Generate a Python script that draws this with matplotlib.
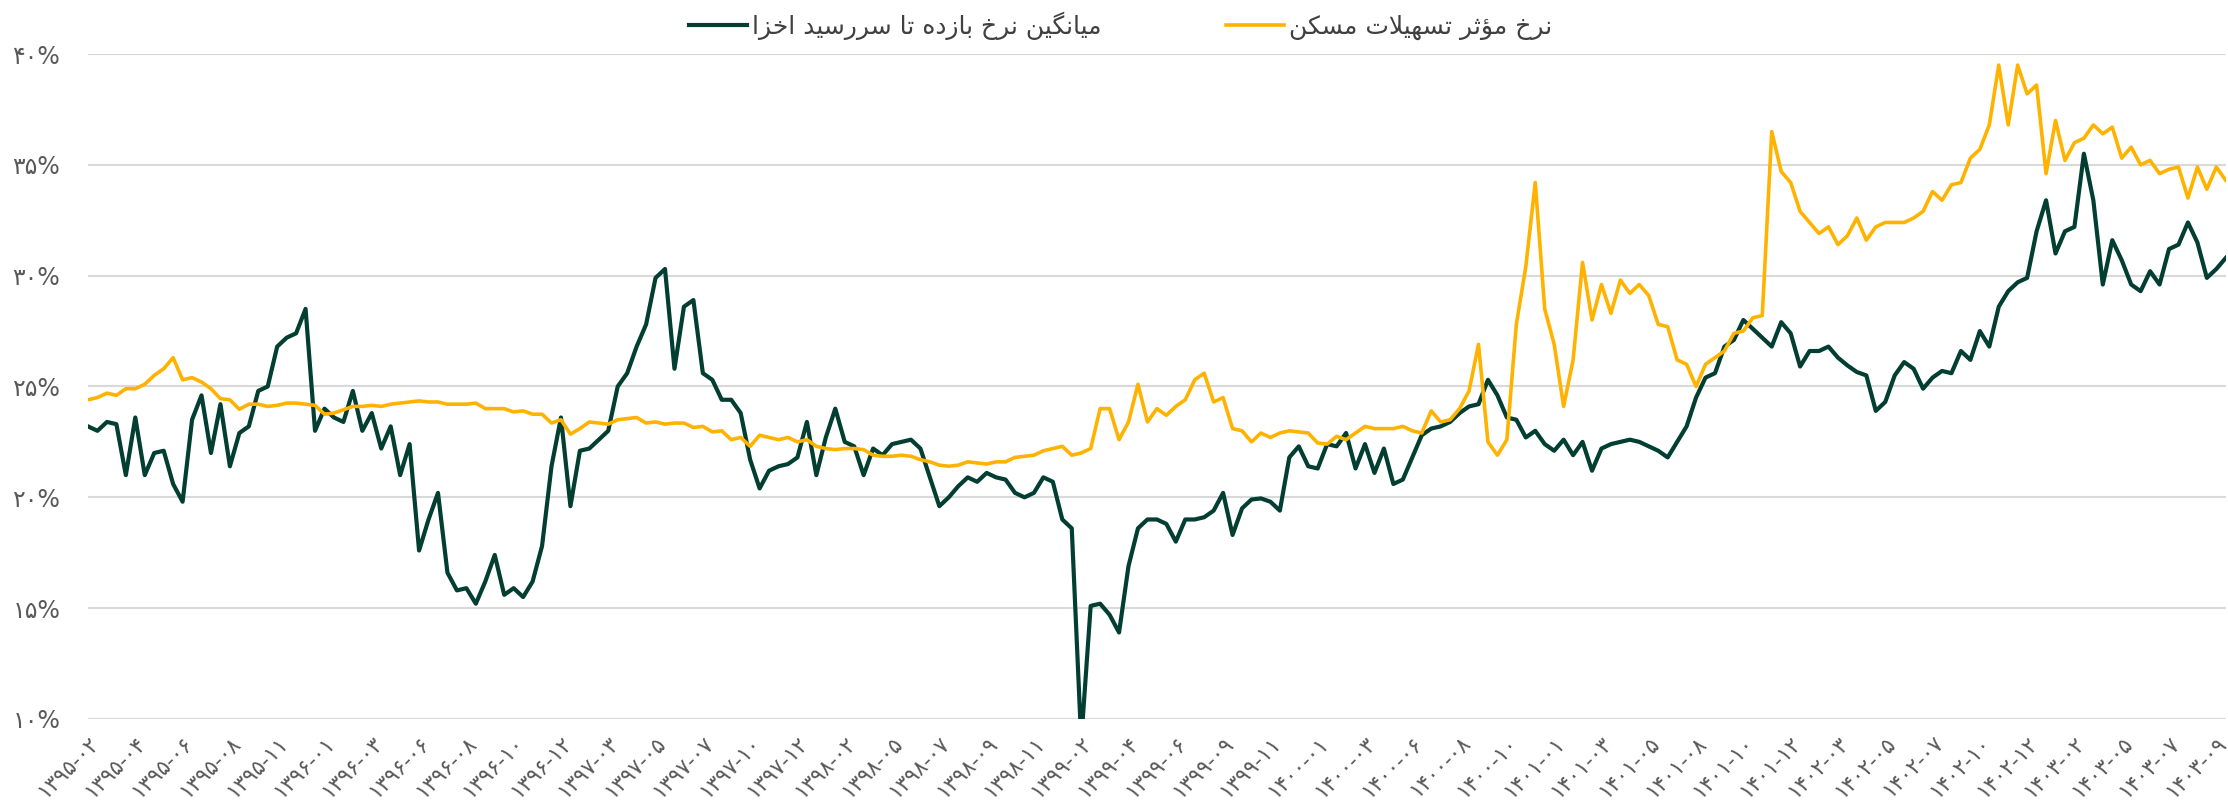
import numpy as np
import matplotlib
matplotlib.use('Agg')
import matplotlib.pyplot as plt

# میانگین نرخ بازده تا سررسید اخزا (درصد)
akhza = [23.2, 23.0, 23.4, 23.3, 21.0, 23.6, 21.0, 22.0, 22.1, 20.6, 19.8, 23.5, 24.6, 22.0, 24.2, 21.4, 22.9, 23.2, 24.8, 25.0,
         26.8, 27.2, 27.4, 28.5, 23.0, 24.0, 23.6, 23.4, 24.8, 23.0, 23.8, 22.2, 23.2, 21.0, 22.4, 17.6, 19.0, 20.2, 16.6,
         15.8, 15.9, 15.2, 16.2, 17.4, 15.6, 15.9, 15.5, 16.2, 17.8, 21.4, 23.6, 19.6, 22.1, 22.2, 22.6, 23.0, 25.0, 25.6,
         26.8, 27.8, 29.9, 30.3, 25.8, 28.6, 28.9, 25.6, 25.3, 24.4, 24.4, 23.8, 21.7, 20.4, 21.2, 21.4, 21.5, 21.8, 23.4,
         21.0, 22.7, 24.0, 22.5, 22.3, 21.0, 22.2, 21.9, 22.4, 22.5, 22.6, 22.2, 20.9, 19.6, 20.0, 20.5, 20.9, 20.7, 21.1,
         20.9, 20.8, 20.2, 20.0, 20.2, 20.9, 20.7, 19.0, 18.6, 9.0, 15.1, 15.2, 14.7, 13.9, 16.9, 18.6, 19.0, 19.0, 18.8,
         18.0, 19.0, 19.0, 19.1, 19.4, 20.2, 18.3, 19.5, 19.9, 19.95, 19.8, 19.4, 21.8, 22.3, 21.4, 21.3, 22.4, 22.3, 22.9,
         21.3, 22.4, 21.1, 22.2, 20.6, 20.8, 21.8, 22.8, 23.1, 23.2, 23.4, 23.8, 24.1, 24.2, 25.3, 24.6, 23.6, 23.5, 22.7,
         23.0, 22.4, 22.1, 22.6, 21.9, 22.5, 21.2, 22.2, 22.4, 22.5, 22.6, 22.5, 22.3, 22.1, 21.8, 22.5, 23.2, 24.5, 25.4,
         25.6, 26.8, 27.1, 28.0, 27.6, 27.2, 26.8, 27.9, 27.4, 25.9, 26.6, 26.6, 26.8, 26.3, 25.95, 25.65, 25.5, 23.9, 24.3,
         25.5, 26.1, 25.8, 24.9, 25.4, 25.7, 25.6, 26.6, 26.2, 27.5, 26.8, 28.6, 29.3, 29.7, 29.9, 32.0, 33.4, 31.0, 32.0,
         32.2, 35.5, 33.4, 29.6, 31.6, 30.7, 29.6, 29.3, 30.2, 29.6, 31.2, 31.4, 32.4, 31.5, 29.9, 30.3, 30.8]

# نرخ مؤثر تسهیلات مسکن (درصد)
maskan = [24.4, 24.5, 24.7, 24.6, 24.9, 24.9, 25.1, 25.5, 25.8, 26.3, 25.3, 25.4, 25.2, 24.9, 24.45, 24.4, 23.97, 24.2, 24.2,
          24.1, 24.15, 24.25, 24.25, 24.2, 24.15, 23.75, 23.8, 23.95, 24.1, 24.1, 24.15, 24.1, 24.2, 24.25, 24.3, 24.35, 24.3,
          24.3, 24.2,
          24.2, 24.2, 24.25, 24.0, 24.0, 24.0, 23.85, 23.9, 23.75, 23.75, 23.35, 23.5, 22.85, 23.1, 23.4, 23.35, 23.3, 23.5,
          23.55, 23.6, 23.35, 23.4, 23.3, 23.35, 23.35, 23.15, 23.2, 22.95, 23.0, 22.6, 22.7, 22.3, 22.8, 22.7, 22.6, 22.7,
          22.5, 22.6,
          22.3, 22.2, 22.15, 22.2, 22.2, 22.15, 21.9, 21.85, 21.85, 21.9, 21.85, 21.7, 21.6, 21.45, 21.4, 21.45, 21.6, 21.55,
          21.5, 21.6, 21.6, 21.8, 21.85, 21.9, 22.1, 22.2, 22.3, 21.9, 22.0, 22.2, 24.0, 24.0, 22.6, 23.4, 25.1, 23.4, 24.0,
          23.7,
          24.1, 24.4, 25.3, 25.6, 24.3, 24.5, 23.1, 23.0, 22.5, 22.9, 22.7, 22.9, 23.0, 22.95, 22.9, 22.45, 22.4, 22.75, 22.6,
          22.9, 23.2, 23.1, 23.1, 23.1, 23.2, 23.0, 22.9, 23.9, 23.4, 23.5, 24.0, 24.8, 26.9, 22.5, 21.9, 22.6, 27.8, 30.4,
          34.2, 28.5, 26.9, 24.1, 26.2, 30.6, 28.0, 29.6, 28.3, 29.8, 29.2, 29.6, 29.1, 27.8, 27.7, 26.2, 26.0, 25.0, 26.0,
          26.3, 26.6, 27.4, 27.5, 28.1, 28.2, 36.5, 34.7, 34.2, 32.9, 32.4, 31.9, 32.2, 31.4, 31.8, 32.6, 31.6, 32.2, 32.4,
          32.4, 32.4, 32.6, 32.9, 33.8, 33.4, 34.1, 34.2, 35.3, 35.7, 36.8, 39.5, 36.8, 39.5, 38.2, 38.6, 34.6, 37.0, 35.2,
          36.0, 36.2, 36.8, 36.4, 36.7, 35.3, 35.8, 35.0, 35.2, 34.6, 34.8, 34.9, 33.5, 34.9, 33.9, 34.9, 34.3]

# برچسب های محور افقی (هر ۵ نقطه یک برچسب)
tarikh = ['۱۳۹۵-۰۲', '۱۳۹۵-۰۴', '۱۳۹۵-۰۶', '۱۳۹۵-۰۸', '۱۳۹۵-۱۱',
          '۱۳۹۶-۰۱', '۱۳۹۶-۰۳', '۱۳۹۶-۰۶', '۱۳۹۶-۰۸', '۱۳۹۶-۱۰', '۱۳۹۶-۱۲',
          '۱۳۹۷-۰۳', '۱۳۹۷-۰۵', '۱۳۹۷-۰۷', '۱۳۹۷-۱۰', '۱۳۹۷-۱۲',
          '۱۳۹۸-۰۲', '۱۳۹۸-۰۵', '۱۳۹۸-۰۷', '۱۳۹۸-۰۹', '۱۳۹۸-۱۱',
          '۱۳۹۹-۰۲', '۱۳۹۹-۰۴', '۱۳۹۹-۰۶', '۱۳۹۹-۰۹', '۱۳۹۹-۱۱',
          '۱۴۰۰-۰۱', '۱۴۰۰-۰۳', '۱۴۰۰-۰۶', '۱۴۰۰-۰۸', '۱۴۰۰-۱۰',
          '۱۴۰۱-۰۱', '۱۴۰۱-۰۳', '۱۴۰۱-۰۵', '۱۴۰۱-۰۸', '۱۴۰۱-۱۰', '۱۴۰۱-۱۲',
          '۱۴۰۲-۰۳', '۱۴۰۲-۰۵', '۱۴۰۲-۰۷', '۱۴۰۲-۱۰', '۱۴۰۲-۱۲',
          '۱۴۰۳-۰۲', '۱۴۰۳-۰۵', '۱۴۰۳-۰۷', '۱۴۰۳-۰۹']
step = 5

y_ticks = [10, 15, 20, 25, 30, 35, 40]
y_labels = ['۱۰%', '۱۵%', '۲۰%', '۲۵%', '۳۰%', '۳۵%', '۴۰%']

name_akhza = 'میانگین نرخ بازده تا سررسید اخزا'
name_maskan = 'نرخ مؤثر تسهیلات مسکن'


# matplotlib حروف فارسی را به هم نمی چسباند، پس شکل حروف را دستی انتخاب می کنیم
# (تنها, پایانی, آغازی, میانی)
FORMS = {
  'ا': ('\uFE8D', '\uFE8E', None, None),
  'ب': ('\uFE8F', '\uFE90', '\uFE91', '\uFE92'),
  'ت': ('\uFE95', '\uFE96', '\uFE97', '\uFE98'),
  'ث': ('\uFE99', '\uFE9A', '\uFE9B', '\uFE9C'),
  'خ': ('\uFEA5', '\uFEA6', '\uFEA7', '\uFEA8'),
  'د': ('\uFEA9', '\uFEAA', None, None),
  'ر': ('\uFEAD', '\uFEAE', None, None),
  'ز': ('\uFEAF', '\uFEB0', None, None),
  'س': ('\uFEB1', '\uFEB2', '\uFEB3', '\uFEB4'),
  'ل': ('\uFEDD', '\uFEDE', '\uFEDF', '\uFEE0'),
  'م': ('\uFEE1', '\uFEE2', '\uFEE3', '\uFEE4'),
  'ن': ('\uFEE5', '\uFEE6', '\uFEE7', '\uFEE8'),
  'ه': ('\uFEE9', '\uFEEA', '\uFEEB', '\uFEEC'),
  'ؤ': ('\uFE85', '\uFE86', None, None),
  'ی': ('\uFEEF', '\uFEF0', '\uFEF3', '\uFEF4'),
  'ک': ('\uFB8E', '\uFB8F', '\uFEDB', '\uFEDC'),
  'گ': ('\uFB92', '\uFB93', '\uFB94', '\uFB95'),
}


def farsi(text):
  out = []
  for word in text.split(' '):
    chars = list(word)
    res = []
    k = 0
    while k < len(chars):
      c = chars[k]
      prev = k > 0 and FORMS.get(chars[k - 1], (0, 0, None))[2] is not None
      if c == 'ل' and k + 1 < len(chars) and chars[k + 1] == 'ا':
        res.append('\uFEFC' if prev else '\uFEFB')
        k += 2
        continue
      f = FORMS[c]
      nxt = k + 1 < len(chars) and f[2] is not None
      if prev and nxt:
        res.append(f[3])
      elif prev:
        res.append(f[1])
      elif nxt:
        res.append(f[2])
      else:
        res.append(f[0])
      k += 1
    out.append(''.join(res))
  return ' '.join(out)[::-1]


plt.rcParams['font.family'] = ['DejaVu Sans']

fig = plt.figure(figsize=(22.28, 8.06), dpi=100)
ax = fig.add_axes([0.0395, 0.108, 0.9595, 0.825])

x = np.arange(len(akhza))
ax.plot(x, akhza, color='#023e31', linewidth=3.0, label=farsi(name_akhza), solid_joinstyle='round')
ax.plot(x, maskan, color='#ffb300', linewidth=2.6, label=farsi(name_maskan), solid_joinstyle='round')

ax.set_xlim(0, len(akhza) - 1)
ax.set_ylim(10, 40)
ax.set_yticks(y_ticks)
ax.set_yticklabels(y_labels)
ax.set_xticks(np.arange(0, len(tarikh) * step, step))
ax.set_xticklabels(tarikh, rotation=45, ha='right', va='top', rotation_mode='anchor')

ax.grid(axis='y', color='#d9d9d9', linewidth=1.5)
ax.set_axisbelow(True)
for s in ax.spines.values():
  s.set_visible(False)
ax.tick_params(axis='both', length=0, colors='#595959')
ax.tick_params(axis='y', pad=20, labelsize=17)
ax.tick_params(axis='x', pad=10, labelsize=15.5)

fig.legend(loc='center', bbox_to_anchor=(0.503, 0.968), ncol=2, frameon=False,
           fontsize=18, columnspacing=5, handlelength=2.3, handletextpad=0.2,
           labelcolor='#404040')

fig.savefig('out.png', dpi=100)
